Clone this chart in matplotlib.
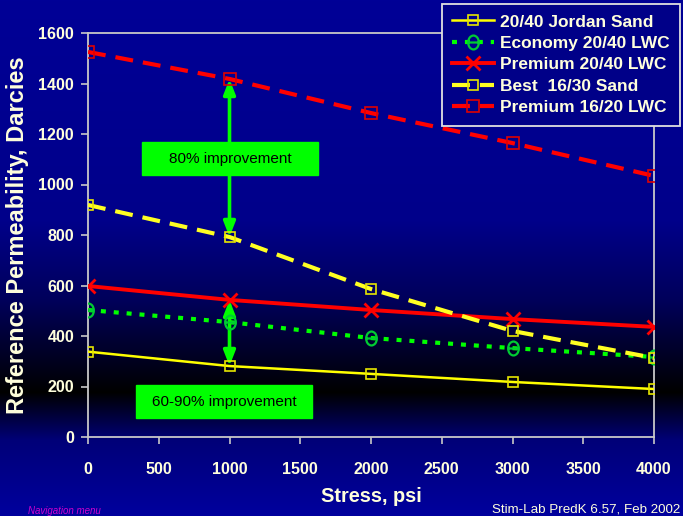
import matplotlib

matplotlib.use("Agg")
import matplotlib.pyplot as plt
import numpy as np
from matplotlib.patches import Rectangle
from matplotlib.path import Path

plt.rcParams["font.family"] = ["Liberation Sans", "DejaVu Sans"]

stress = [0, 1000, 2000, 3000, 4000]
jordan_sand = [338, 281, 250, 218, 190]
economy_lwc = [503, 455, 392, 352, 317]
premium_2040 = [598, 543, 503, 467, 436]
best_1630 = [919, 792, 586, 420, 313]
premium_1620 = [1525, 1418, 1283, 1164, 1034]

labels = [
    "20/40 Jordan Sand",
    "Economy 20/40 LWC",
    "Premium 20/40 LWC",
    "Best  16/30 Sand",
    "Premium 16/20 LWC",
]
x_ticks = list(range(0, 4001, 500))
y_ticks = list(range(0, 1601, 200))

text_col = "#FFFFDC"
green = "#00FF00"

W, H = 683, 516
fig = plt.figure(figsize=(W / 100, H / 100), dpi=100)

# background gradient: blue -> black -> blue
bg = fig.add_axes([0, 0, 1, 1], zorder=-10)
rows = np.arange(H)
stops = [0, 220, 300, 392, 440, 516]
blue = np.interp(rows, stops, [150, 138, 90, 0, 120, 158])
grad = np.zeros((H, 1, 3))
grad[:, 0, 2] = blue / 255
bg.imshow(grad, aspect="auto", extent=[0, 1, 0, 1])
bg.set_axis_off()

ax = fig.add_axes([88 / W, 1 - 437 / H, (654 - 88) / W, (437 - 33) / H])
ax.set_facecolor("none")

# circle-with-bar marker
circ = Path.unit_circle()
circ = Path(circ.vertices * [1.0, 1.3], circ.codes)
bar = Path([[-1, 0], [1, 0]], [Path.MOVETO, Path.LINETO])
theta_marker = Path.make_compound_path(circ, bar)

ax.plot(stress, jordan_sand, color="#FFFF00", lw=1.8, marker="s", ms=7,
        mfc="none", mec="#E6E600", mew=1.2, label=labels[0], zorder=4)
ax.plot(stress, economy_lwc, color=green, lw=3, ls=(0, (1.2, 1.9)),
        marker=theta_marker, ms=10, mfc="none", mec="#00CC33", mew=1.6,
        label=labels[1], zorder=4)
ax.plot(stress, premium_2040, color="#FF0000", lw=2.8, marker="x", ms=10,
        mec="#FF0000", mew=2, label=labels[2], zorder=4)
ax.plot(stress, best_1630, color="#FFFF22", lw=3, ls=(0, (4.3, 2.4)),
        marker="s", ms=7, mfc="none", mec="#E6E600", mew=1.2,
        label=labels[3], zorder=4)
ax.plot(stress, premium_1620, color="#FF0000", lw=3, ls=(0, (4.3, 2.4)),
        marker="s", ms=8, mfc="none", mec="#E00000", mew=1.2,
        label=labels[4], zorder=4)

ax.set_xlim(0, 4000)
ax.set_ylim(0, 1600)
ax.set_xticks(x_ticks)
ax.set_yticks(y_ticks)
for s in ax.spines.values():
    s.set_color("#C8C8C8")
    s.set_linewidth(1.3)
ax.tick_params(axis="both", colors="#C8C8C8", width=1.2, length=5,
               labelcolor=text_col, labelsize=11.5)
ax.tick_params(axis="x", pad=13)
ax.tick_params(axis="y", pad=5)
for lab in ax.get_xticklabels() + ax.get_yticklabels():
    lab.set_fontweight("bold")

ax.set_xlabel("Stress, psi", color=text_col, fontsize=14.3, fontweight="bold",
              labelpad=7)
ax.set_ylabel("Reference Permeability, Darcies", color=text_col, fontsize=17,
              fontweight="bold", labelpad=7)

# improvement arrows and boxes
arrow_kw = dict(arrowstyle="<|-|>,head_length=0.9,head_width=0.35",
                color=green, lw=2.6, shrinkA=0, shrinkB=0)
ax.annotate("", xy=(1000, premium_1620[1]), xytext=(1000, best_1630[1]),
            arrowprops=arrow_kw, zorder=3)
ax.annotate("", xy=(1000, premium_2040[1]), xytext=(1000, jordan_sand[1]),
            arrowprops=arrow_kw, zorder=3)

ax.add_patch(Rectangle((382, 1037), 1243, 131, color=green, zorder=5))
ax.text(1003, 1102, "80% improvement", ha="center", va="center",
        fontsize=11, color="black", zorder=6)
ax.add_patch(Rectangle((339, 75), 1244, 131, color=green, zorder=5))
ax.text(961, 140, "60-90% improvement", ha="center", va="center",
        fontsize=11, color="black", zorder=6)

leg = ax.legend(loc="upper right", bbox_to_anchor=(680 / W, 1 - 4 / H),
                bbox_transform=fig.transFigure, fancybox=False,
                facecolor="#000088", edgecolor="#E0E0E0", framealpha=1,
                fontsize=12.5, handlelength=2.4, handletextpad=0.35,
                labelspacing=0.36, borderpad=0.6, borderaxespad=0)
leg.get_frame().set_linewidth(1.3)
for t in leg.get_texts():
    t.set_color(text_col)
    t.set_fontweight("bold")
leg.set_zorder(10)

fig.text(492 / W, 0 / H, "Stim-Lab PredK 6.57, Feb 2002", color=text_col,
         fontsize=9.6, ha="left", va="bottom")
fig.text(28 / W, 0 / H, "Navigation menu", color="#CC00CC", fontsize=7,
         style="italic", ha="left", va="bottom")

fig.savefig("out.png", dpi=100)
